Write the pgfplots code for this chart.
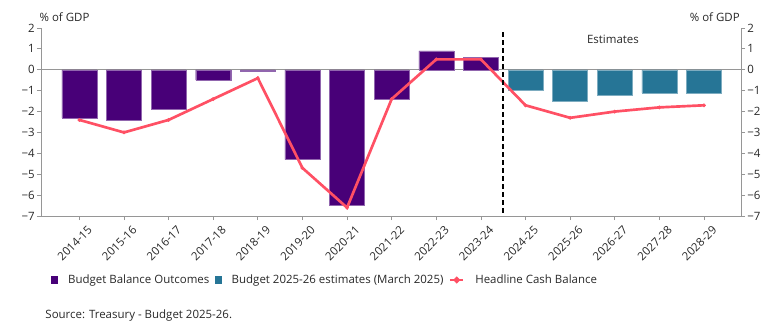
\documentclass[border=0pt]{standalone}
\usepackage{pgfplots}
\pgfplotsset{compat=1.18}
\usepackage{fontspec}
\setmainfont{Open Sans}
\definecolor{purp}{RGB}{72,0,120}
\definecolor{teal2}{RGB}{38,117,150}
\definecolor{redl}{RGB}{255,80,100}
\definecolor{axgray}{RGB}{150,150,150}
\definecolor{txt}{RGB}{40,40,40}
\begin{document}
\begin{tikzpicture}[font=\fontsize{8.6}{10}\selectfont, text=txt]
\useasboundingbox (-30.75pt,-84.75pt) rectangle (545.25pt,162pt);
\begin{axis}[
  at={(0,0)}, anchor=south west,
  scale only axis, width=525pt, height=141pt,
  xmin=-0.86, xmax=14.83, ymin=-7, ymax=2,
  axis lines*=left,
  axis line style={draw=axgray, line width=0.6pt},
  tick style={draw=axgray, line width=0.6pt},
  tick align=outside, major tick length=3pt,
  xtick={0,...,14},
  xticklabels={2014-15,2015-16,2016-17,2017-18,2018-19,2019-20,2020-21,2021-22,2022-23,2023-24,2024-25,2025-26,2026-27,2027-28,2028-29},
  xticklabel style={rotate=45, anchor=north east, inner sep=1pt, xshift=2.5pt, yshift=-5.5pt},
  ytick={-7,...,2},
  yticklabels={−7,−6,−5,−4,−3,−2,−1,0,1,2},
  yticklabel style={inner sep=1.5pt},
  legend columns=3,
  legend style={at={(0.014,-0.34)}, anchor=west, draw=none, fill=none,
    inner sep=0pt, column sep=2pt,
    /tikz/every odd column/.append style={column sep=6pt}},
  legend cell align=left,
  clip=false,
]
\addplot[forget plot, draw=axgray, line width=0.6pt] coordinates {(-0.86,0) (14.83,0)};
\addplot[ybar, bar width=26.25pt, bar shift=0pt, fill=purp, draw=purp!60!white, line width=0.3pt,
  legend image code/.code={\fill[purp] (0pt,-2.6pt) rectangle (4.5pt,2.6pt);}]
  coordinates {(0,-2.3) (1,-2.4) (2,-1.9) (3,-0.5) (4,-0.05) (5,-4.3) (6,-6.5) (7,-1.4) (8,0.9) (9,0.6)};
\addlegendentry{Budget Balance Outcomes}
\addplot[ybar, bar width=26.25pt, bar shift=0pt, fill=teal2, draw=teal2!60!white, line width=0.3pt,
  legend image code/.code={\fill[teal2] (0pt,-2.6pt) rectangle (4.5pt,2.6pt);}]
  coordinates {(10,-1.0) (11,-1.5) (12,-1.2) (13,-1.1) (14,-1.1)};
\addlegendentry{Budget 2025-26 estimates (March 2025)}
\addplot[redl, line width=2pt, mark=*, mark size=1.3pt, mark options={fill=redl, draw=redl, line width=0.3pt},
  legend image code/.code={\draw[redl, line width=1.9pt] (0pt,0pt) -- (10pt,0pt); \fill[redl] (5pt,0pt) circle (1.3pt);}]
  coordinates {(0,-2.4) (1,-3.0) (2,-2.4) (3,-1.4) (4,-0.4) (5,-4.7) (6,-6.6) (7,-1.4) (8,0.5) (9,0.5) (10,-1.7) (11,-2.3) (12,-2.0) (13,-1.8) (14,-1.7)};
\addlegendentry{Headline Cash Balance}
\addplot[forget plot, black, line width=1.1pt, dash pattern=on 3.5pt off 2.5pt] coordinates {(9.5,1.8) (9.5,-7)};
\node at (axis cs:11.96,1.44) {Estimates};
\node[anchor=base west, inner sep=0pt] at ([xshift=-1.2pt, yshift=5pt]rel axis cs:0,1) {\% of GDP};
\node[anchor=base east, inner sep=0pt] at ([xshift=-0.8pt, yshift=5pt]rel axis cs:1,1) {\% of GDP};
\node[anchor=west, inner sep=0pt] at (rel axis cs:0.006,-0.527) {Source: Treasury - Budget 2025-26.};
\end{axis}
\begin{axis}[
  at={(0,0)}, anchor=south west,
  scale only axis, width=525pt, height=141pt,
  xmin=-0.86, xmax=14.83, ymin=-7, ymax=2,
  axis x line=none, axis y line*=right,
  axis line style={draw=axgray, line width=0.6pt},
  tick style={draw=axgray, line width=0.6pt},
  tick align=outside, major tick length=3pt,
  ytick={-7,...,2},
  yticklabels={−7,−6,−5,−4,−3,−2,−1,0,1,2},
  yticklabel style={inner sep=1.5pt},
]
\addplot[draw=none, forget plot] coordinates {(0,0)};
\end{axis}
\end{tikzpicture}
\end{document}
